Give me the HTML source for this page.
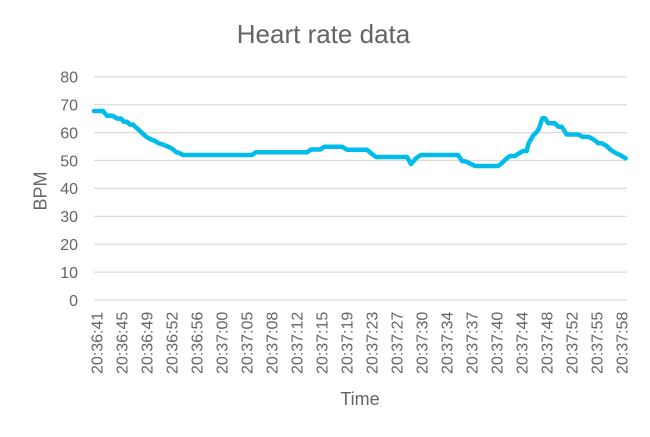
<!DOCTYPE html>
<html>
<head>
<meta charset="utf-8">
<style>
  html, body { margin: 0; padding: 0; background: #ffffff; }
  body { width: 650px; height: 437px; overflow: hidden; }
  svg { display: block; }
  text { font-family: "Liberation Sans", sans-serif; fill: #646464; }
</style>
</head>
<body>
<svg width="650" height="437" viewBox="0 0 650 437" xmlns="http://www.w3.org/2000/svg">
  <rect x="0" y="0" width="650" height="437" fill="#ffffff"/>

  <!-- Title -->
  <text x="323.5" y="43" font-size="26" text-anchor="middle">Heart rate data</text>

  <!-- Gridlines -->
  <g stroke="#d9d9d9" stroke-width="1.2">
    <line x1="94" y1="76.8" x2="627" y2="76.8"/>
    <line x1="94" y1="104.7" x2="627" y2="104.7"/>
    <line x1="94" y1="132.6" x2="627" y2="132.6"/>
    <line x1="94" y1="160.5" x2="627" y2="160.5"/>
    <line x1="94" y1="188.4" x2="627" y2="188.4"/>
    <line x1="94" y1="216.3" x2="627" y2="216.3"/>
    <line x1="94" y1="244.2" x2="627" y2="244.2"/>
    <line x1="94" y1="272.1" x2="627" y2="272.1"/>
    <line x1="94" y1="300" x2="627" y2="300"/>
  </g>

  <!-- Y tick labels -->
  <g font-size="16" text-anchor="end">
    <text x="78" y="82.6">80</text>
    <text x="78" y="110.5">70</text>
    <text x="78" y="138.4">60</text>
    <text x="78" y="166.3">50</text>
    <text x="78" y="194.2">40</text>
    <text x="78" y="222.1">30</text>
    <text x="78" y="250">20</text>
    <text x="78" y="277.9">10</text>
    <text x="78" y="305.8">0</text>
  </g>

  <!-- Y axis title -->
  <text transform="translate(46.5,191) rotate(-90)" font-size="18" text-anchor="middle">BPM</text>

  <!-- X tick labels -->
  <g font-size="16" text-anchor="end">
    <text transform="translate(96.7,311.7) rotate(-90)" dy="0.36em">20:36:41</text>
    <text transform="translate(121.7,311.7) rotate(-90)" dy="0.36em">20:36:45</text>
    <text transform="translate(146.7,311.7) rotate(-90)" dy="0.36em">20:36:49</text>
    <text transform="translate(171.7,311.7) rotate(-90)" dy="0.36em">20:36:52</text>
    <text transform="translate(196.7,311.7) rotate(-90)" dy="0.36em">20:36:56</text>
    <text transform="translate(221.7,311.7) rotate(-90)" dy="0.36em">20:37:00</text>
    <text transform="translate(246.7,311.7) rotate(-90)" dy="0.36em">20:37:05</text>
    <text transform="translate(271.7,311.7) rotate(-90)" dy="0.36em">20:37:08</text>
    <text transform="translate(296.7,311.7) rotate(-90)" dy="0.36em">20:37:12</text>
    <text transform="translate(321.7,311.7) rotate(-90)" dy="0.36em">20:37:15</text>
    <text transform="translate(346.7,311.7) rotate(-90)" dy="0.36em">20:37:19</text>
    <text transform="translate(371.7,311.7) rotate(-90)" dy="0.36em">20:37:23</text>
    <text transform="translate(396.7,311.7) rotate(-90)" dy="0.36em">20:37:27</text>
    <text transform="translate(421.7,311.7) rotate(-90)" dy="0.36em">20:37:30</text>
    <text transform="translate(446.7,311.7) rotate(-90)" dy="0.36em">20:37:34</text>
    <text transform="translate(471.7,311.7) rotate(-90)" dy="0.36em">20:37:37</text>
    <text transform="translate(496.7,311.7) rotate(-90)" dy="0.36em">20:37:40</text>
    <text transform="translate(521.7,311.7) rotate(-90)" dy="0.36em">20:37:44</text>
    <text transform="translate(546.7,311.7) rotate(-90)" dy="0.36em">20:37:48</text>
    <text transform="translate(571.7,311.7) rotate(-90)" dy="0.36em">20:37:52</text>
    <text transform="translate(596.7,311.7) rotate(-90)" dy="0.36em">20:37:55</text>
    <text transform="translate(621.7,311.7) rotate(-90)" dy="0.36em">20:37:58</text>
  </g>

  <!-- X axis title -->
  <text x="360" y="405" font-size="18" text-anchor="middle">Time</text>

  <!-- Series -->
  <polyline fill="none" stroke="#00bcea" stroke-width="4.5" stroke-linejoin="round" stroke-linecap="round"
    points="94,111 103,111 107,115.8 113,115.8 117,118.6 121,118.6 124,121.8 127,121.8 130,124.6 133,124.6 136.5,128 139,130 142,133 146,136.5 150,139 155,141 158,143 164,145 170,147.5 173,149.3 176,152 180,153.3 183,155 252,155 256,152.2 307,152.2 311,149.5 320,149.5 324.5,146.7 342,146.7 347,149.7 367,149.7 372,154 376,157 407,157 411,164 416,158.3 421,155 458,155 462,161 466,161.5 470,163.5 475,166 498,166 502,163 506.7,158.3 510,156 515,156 519,153.3 523,151 526.7,151 528.5,143.5 531,139.3 533.5,135 537,131.7 539,128.5 541.7,120 542.5,118.3 545,118.3 548.3,123.3 555,123.3 558.3,126.7 561.7,126.7 564.3,130.7 566.7,134.5 578.3,134.5 582.3,136.7 588.3,136.7 593.3,139.3 598.3,143.3 601.7,143.3 606.7,146 610,149.3 615,152.7 620,155 625.7,158.3"/>
</svg>
</body>
</html>
